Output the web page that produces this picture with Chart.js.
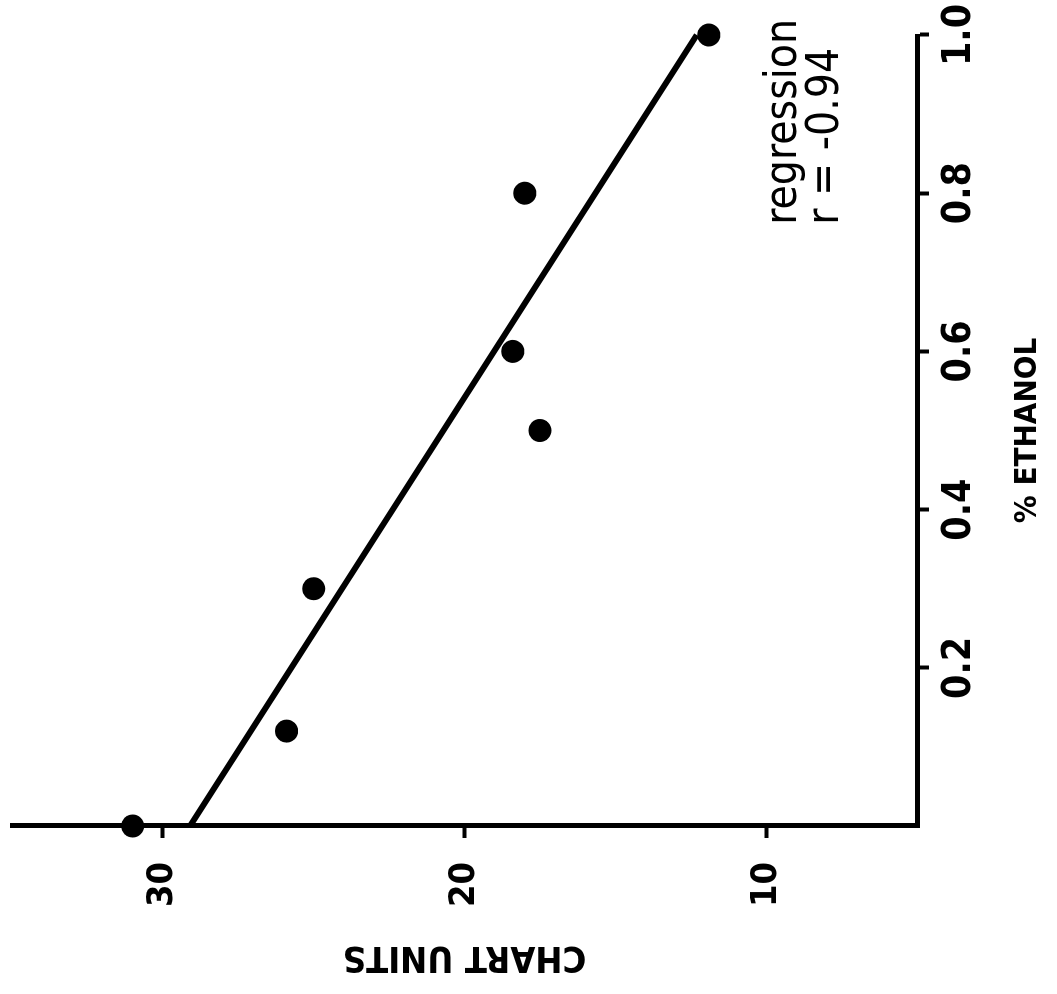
<!DOCTYPE html>
<html>
<head>
<meta charset="utf-8">
<script src="https://cdn.jsdelivr.net/npm/chart.js@4/dist/chart.umd.min.js"></script>
<style>
  html, body { margin: 0; padding: 0; background: #fff; overflow: hidden; width: 1057px; height: 994px; }
  /* the plot is laid out upright and then turned a quarter turn to the left */
  #frame { position: absolute; left: 0; top: 0; width: 994px; height: 1057px;
           transform-origin: 0 0; transform: translate(0, 994px) rotate(-90deg); }
  canvas { display: block; }
</style>
</head>
<body>
<div id="frame"><canvas id="chart" width="994" height="1057"></canvas></div>
<script>
// Measured samples: ethanol content vs. recorder reading
const ethanolPct = [0, 0.12, 0.3, 0.5, 0.6, 0.8, 1.0];
const chartUnits = [31.0, 25.9, 25.0, 17.5, 18.4, 18.0, 11.9];

// Least-squares line drawn through the samples (end points)
const fitEthanol = [0, 1.0];
const fitUnits = [29.1, 12.3];

// Axis tick values
const ethanolTicks = [0.2, 0.4, 0.6, 0.8, 1.0];
const unitTicks = [10, 20, 30];

// Note written beside the fitted line
const fitNote = ['regression', 'r = -0.94'];

const FAMILY = "'DejaVu Sans Condensed', 'DejaVu Sans', sans-serif";
const INK = '#000';

// Writes the regression note at a data position on the plot
const notePlugin = {
  id: 'fitNote',
  afterDatasetsDraw(chart, args, opts) {
    const { ctx, scales } = chart;
    const x = scales.x.getPixelForValue(opts.x);
    ctx.save();
    ctx.fillStyle = INK;
    ctx.font = opts.font;
    ctx.textAlign = 'left';
    ctx.textBaseline = 'middle';
    opts.lines.forEach((t, i) => {
      ctx.fillText(t, x, scales.y.getPixelForValue(opts.y[i]));
    });
    ctx.restore();
  }
};

new Chart(document.getElementById('chart'), {
  type: 'scatter',
  data: {
    datasets: [
      {
        label: 'fit',
        data: fitEthanol.map((x, i) => ({ x, y: fitUnits[i] })),
        showLine: true,
        borderColor: INK,
        borderWidth: 6,
        pointRadius: 0,
        clip: false,
        order: 2
      },
      {
        label: 'samples',
        data: ethanolPct.map((x, i) => ({ x, y: chartUnits[i] })),
        pointRadius: 11.5,
        pointHoverRadius: 11.5,
        backgroundColor: INK,
        borderWidth: 0,
        clip: false,
        order: 1
      }
    ]
  },
  plugins: [notePlugin],
  options: {
    responsive: false,
    animation: false,
    events: [],
    layout: { padding: { left: 0, right: 35, top: 12, bottom: 0 } },
    plugins: {
      legend: { display: false },
      tooltip: { enabled: false },
      fitNote: {
        lines: fitNote,
        x: 0.76,
        y: [9.4, 8.0],
        font: "44px " + FAMILY
      }
    },
    scales: {
      x: {
        type: 'linear',
        min: 0,
        max: 1.0,
        afterBuildTicks: s => { s.ticks = ethanolTicks.map(v => ({ value: v })); },
        afterFit: s => { s.height = 140; s.paddingLeft = 0; s.paddingRight = 0; },
        ticks: {
          callback: v => Number(v).toFixed(1),
          color: INK,
          padding: 7,
          maxRotation: 0,
          autoSkip: false,
          font: { family: FAMILY, size: 39, weight: 'bold' }
        },
        grid: { drawOnChartArea: false, tickLength: 12, tickWidth: 4, tickColor: INK },
        border: { display: true, color: INK, width: 5 },
        title: {
          display: true,
          text: '% ETHANOL',
          color: INK,
          padding: { top: 10, bottom: 10 },
          font: { family: FAMILY, size: 31, weight: 'bold' }
        }
      },
      y: {
        type: 'linear',
        min: 5,
        max: 35,
        afterBuildTicks: s => { s.ticks = unitTicks.map(v => ({ value: v })); },
        afterFit: s => { s.width = 168; s.paddingTop = 0; s.paddingBottom = 0; },
        ticks: {
          callback: v => String(v),
          color: INK,
          padding: 24,
          autoSkip: false,
          font: { family: FAMILY, size: 36, weight: 'bold' }
        },
        grid: { drawOnChartArea: false, tickLength: 12, tickWidth: 4, tickColor: INK },
        border: { display: true, color: INK, width: 5 },
        title: {
          display: true,
          text: 'CHART UNITS',
          color: INK,
          padding: { top: 16, bottom: 16 },
          font: { family: FAMILY, size: 36, weight: 'bold' }
        }
      }
    }
  }
});
</script>
</body>
</html>
